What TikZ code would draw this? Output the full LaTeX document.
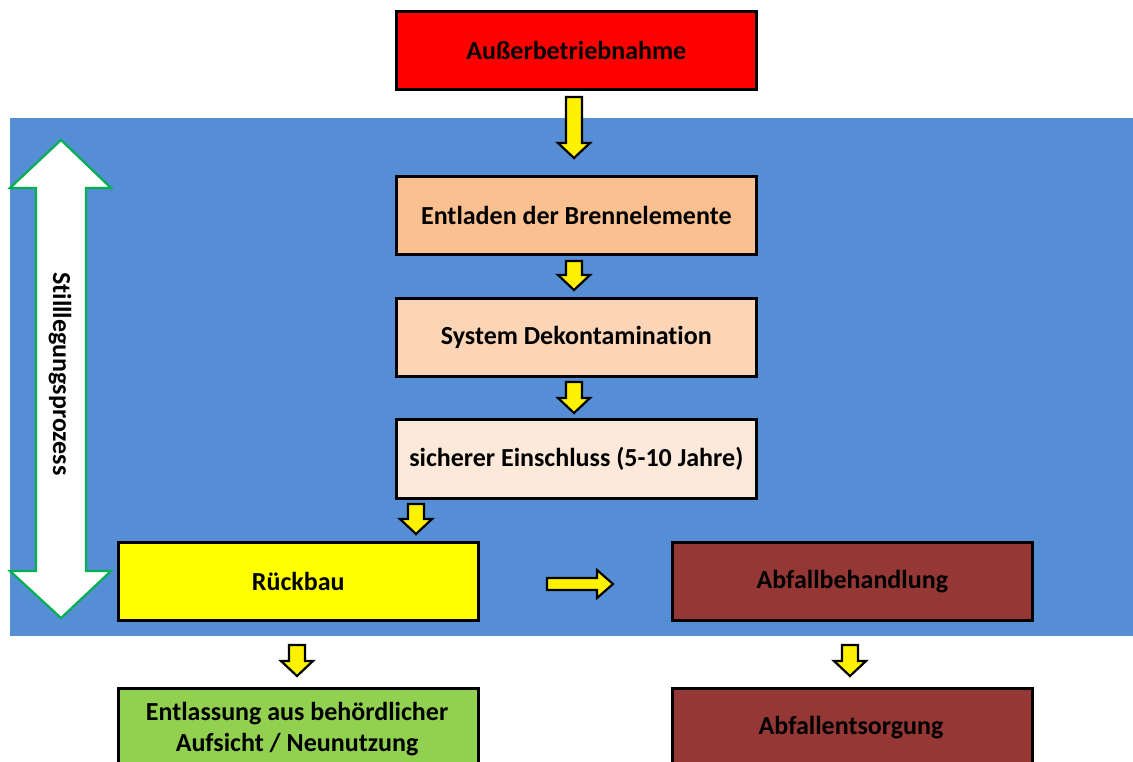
\documentclass[tikz,border=0pt]{standalone}
\usepackage{fontspec}
\setmainfont{Carlito}[Ligatures=CommonOff]
\usetikzlibrary{calc}
\definecolor{bgblue}{HTML}{558ED5}
\definecolor{boxred}{HTML}{FF0000}
\definecolor{boxor1}{HTML}{FAC090}
\definecolor{boxor2}{HTML}{FBD5B5}
\definecolor{boxor3}{HTML}{FDE9D9}
\definecolor{boxyel}{HTML}{FFFF00}
\definecolor{boxbrown}{HTML}{953735}
\definecolor{boxgreen}{HTML}{92D050}
\definecolor{arrgreen}{HTML}{00B050}
\tikzset{
  lbl/.style={font=\bfseries\fontsize{26}{31}\selectfont, align=center, inner sep=0pt},
  stepbox/.style={draw=black, line width=2.6pt, minimum width=360pt, minimum height=78pt,
    inner sep=0pt, lbl, anchor=north west},
  yarrow/.style={draw=black, fill=yellow, line width=2.2pt, line join=miter},
}
% down block arrow: x, ytop, ytip
\newcommand{\dArrow}[3]{\draw[yarrow] (#1-8,#2) -- (#1+8,#2) -- (#1+8,#3-15) -- (#1+16,#3-15) -- (#1,#3) -- (#1-16,#3-15) -- (#1-8,#3-15) -- cycle;}
\begin{document}
\begin{tikzpicture}[x=1pt,y=-1pt]
\clip (0,0) rectangle (1133,762);
\fill[white] (0,0) rectangle (1133,762);
\fill[bgblue] (10,118) rectangle (1133,636);

\node[stepbox, fill=boxred] (a) at (395,10) {Außerbetriebnahme};
\node[stepbox, fill=boxor1] (b) at (395,175) {Entladen der Brennelemente};
\node[stepbox, fill=boxor2] (c) at (395,297) {System Dekontamination};
\node[stepbox, fill=boxor3, minimum height=79pt] (d) at (395,418) {sicherer Einschluss (5-10 Jahre)};
\node[stepbox, fill=boxyel] (e) at (117,541) {Rückbau};
\node[stepbox, fill=boxbrown] (f) at (671,541) {Abfallbehandlung};
\node[stepbox, fill=boxgreen, minimum height=100pt] (g) at (117,687) {};
\node[stepbox, fill=boxbrown, minimum height=100pt] (h) at (671,687) {};
\node[lbl] (gt) at (297,729) {Entlassung aus behördlicher\\Aufsicht / Neunutzung};
\node[lbl] (ht) at (851,728) {Abfallentsorgung};

% block arrows
\dArrow{574}{97}{158}
\dArrow{574}{261}{290}
\dArrow{574}{382}{413}
\dArrow{416}{504}{534}
\dArrow{297}{645}{676}
\dArrow{850}{645}{676}
\draw[yarrow] (547,578) -- (597,578) -- (597,570) -- (613,584) -- (597,598) -- (597,590) -- (547,590) -- cycle;

% double arrow
\draw[draw=arrgreen, fill=white, line width=2.2pt, line join=miter]
  (61,140) -- (111,188) -- (86,188) -- (86,571) -- (111,571) -- (61,618)
  -- (10,571) -- (36,571) -- (36,188) -- (10,188) -- cycle;
\node[lbl, rotate=-90] (s) at (60,374) {Stilllegungsprozess};
\end{tikzpicture}
\end{document}
